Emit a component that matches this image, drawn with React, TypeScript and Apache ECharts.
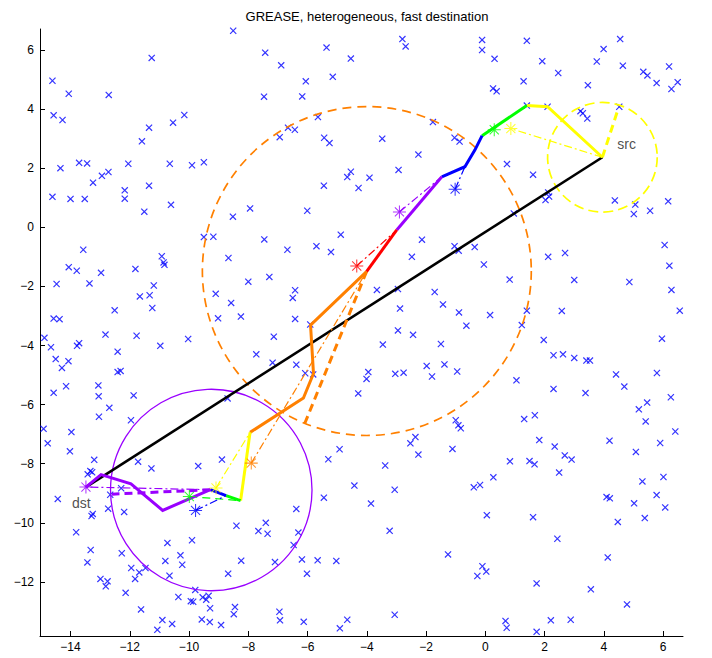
import React, { useEffect, useRef } from "react";
import * as echarts from "echarts";

// ---- axis ----
const xMin = -15.03, xMax = 6.67, yMin = -13.83, yMax = 6.71;
const xTicks = [-14, -12, -10, -8, -6, -4, -2, 0, 2, 4, 6];
const yTicks = [-12, -10, -8, -6, -4, -2, 0, 2, 4, 6];
const titleText = "GREASE, heterogeneous, fast destination";

// ---- nodes (blue x) ----
const nodes: [number, number][] = [
  [-8.51,6.65],[-11.26,5.73],[-14.61,4.96],[-14.06,4.52],[-12.71,4.48],[-14.57,3.79],[-14.27,3.63],[-10.16,3.80],[-11.35,3.37],[-10.54,3.54],[-11.59,2.91],[-13.71,2.18],[-13.44,2.16],[-14.34,2.00],[-12.05,2.15],[-10.65,2.15],[-9.90,2.10],[-9.50,2.20],[-12.72,1.87],[-12.94,1.74],[-13.24,1.51],[-11.35,1.41],[-12.17,1.25],[-14.61,1.03],[-14.00,0.96],[-13.52,0.96],[-12.17,0.97],[-10.61,0.76],[-11.51,0.53],[-7.94,0.64],[-8.52,0.36],[-9.50,-0.33],[-9.18,-0.32],[-13.57,-0.76],[-10.92,-0.98],[-10.86,-1.19],[-10.83,-1.27],[-8.67,-1.04],[-14.06,-1.35],[-13.79,-1.47],[-12.97,-1.54],[-11.81,-1.41],[-14.47,-1.92],[-13.36,-1.90],[-11.19,-1.97],[-8.00,-1.84],[-11.66,-2.34],[-11.33,-2.30],[-9.10,-2.25],[-8.58,-2.56],[-12.51,-2.81],[-11.24,-2.73],[-14.57,-3.09],[-14.37,-3.11],[-9.02,-3.08],[-8.25,-3.02],
  [-2.80,6.37],[-2.69,6.12],[-7.43,5.91],[-5.36,6.08],[-4.54,5.71],[-6.89,5.48],[-5.15,5.09],[-6.06,4.94],[-7.47,4.42],[-6.18,4.43],[-5.65,3.73],[-6.66,3.37],[-6.43,3.30],[-6.94,3.05],[-5.44,3.03],[-5.26,2.85],[-3.48,3.00],[-1.77,3.56],[-1.04,3.03],[-0.87,2.90],[-2.26,2.46],[-2.93,1.94],[-4.54,1.88],[-4.66,1.70],[-3.91,1.68],[-5.45,1.41],[-4.28,1.33],[-6.01,0.56],[-7.46,-0.41],[-6.68,-0.76],[-5.70,-0.64],[-5.21,-0.84],[-4.88,-0.25],[-2.14,-0.42],[-2.48,-1.00],[-1.04,-0.64],[-0.90,-0.79],[-7.29,-1.68],[-6.42,-2.13],[-6.50,-2.39],[-3.66,-2.12],[-2.95,-2.09],[-1.71,-2.19],[-1.43,-2.61],[-2.88,-2.75],[-0.89,-2.88],[-6.42,-3.10],[-5.91,-3.29],[-2.95,-3.49],[-0.64,-3.33],
  [-0.11,6.34],[-0.11,6.00],[1.40,6.31],[4.55,6.37],[0.31,5.70],[1.92,5.62],[3.99,6.03],[3.76,5.61],[4.64,5.47],[6.20,5.44],[2.46,5.22],[5.33,5.26],[5.47,5.14],[5.78,4.88],[6.49,4.91],[6.28,4.68],[1.29,4.94],[3.46,4.81],[0.26,4.70],[0.38,4.60],[1.40,4.12],[2.10,4.08],[4.52,4.08],[3.21,3.93],[3.29,3.86],[3.44,3.68],[0.73,2.14],[1.61,1.78],[2.12,1.18],[2.15,1.04],[2.03,0.92],[4.37,0.91],[5.06,0.77],[5.01,0.45],[5.56,0.56],[6.17,0.88],[0.96,0.47],[-0.36,-0.67],[-0.05,-1.26],[2.12,-1.00],[2.69,-0.87],[0.82,-1.77],[3.00,-1.78],[6.05,-0.60],[6.21,-1.30],[6.28,-2.12],[4.86,-1.85],[6.56,-2.82],[0.16,-2.97],[1.40,-2.82],[2.58,-2.83],[1.23,-3.31],
  [-14.88,-3.74],[-14.66,-4.06],[-13.78,-4.01],[-13.71,-3.92],[-12.82,-3.63],[-11.77,-3.67],[-10.97,-4.01],[-10.03,-3.78],[-7.14,-3.70],[-12.41,-4.21],[-14.50,-4.46],[-14.07,-4.53],[-14.29,-4.76],[-12.41,-4.90],[-12.31,-4.86],[-7.73,-4.30],[-6.38,-4.65],[-6.08,-4.94],[-5.81,-4.98],[-7.18,-4.58],[-14.15,-5.38],[-13.06,-5.35],[-13.05,-5.72],[-14.57,-5.60],[-11.87,-5.69],[-12.69,-6.11],[-13.04,-6.41],[-8.70,-5.79],[-4.29,-5.62],[-11.96,-6.53],[-14.91,-6.82],[-13.97,-6.93],[-14.77,-7.31],[-14.02,-7.58],[-13.20,-7.87],[-11.72,-7.93],[-11.27,-8.16],[-9.69,-8.08],[-8.89,-7.86],[-5.30,-7.85],[-4.92,-7.51],[-4.42,-8.74],[-13.42,-8.36],[-13.27,-8.29],[-13.33,-8.25],[-12.66,-9.05],[-12.29,-8.83],[-14.43,-9.19],[-12.73,-9.52],[-13.29,-9.77],[-13.25,-9.70],[-12.19,-9.63],[-5.45,-9.15],[-6.38,-9.53],[-13.81,-10.32],[-8.40,-10.10],[-7.41,-10.00],[-7.66,-10.28],[-7.35,-10.37],[-6.31,-10.33],[-6.47,-10.75],[-10.73,-10.68],[-9.90,-10.59],[-13.32,-10.92],[-13.43,-11.34],[-12.27,-11.03],[-10.80,-11.29],[-10.29,-11.10],[-10.23,-11.42],[-8.24,-11.28],[-7.10,-11.33],[-6.19,-11.24],[-5.66,-11.27],[-5.03,-11.29],[-8.68,-11.72],[-6.02,-11.72],[-11.95,-11.53],[-11.68,-11.68],[-11.47,-11.53],[-11.82,-11.90],[-12.99,-11.90],[-12.75,-11.98],[-12.81,-12.15],[-10.66,-11.79],[-12.14,-12.37],[-10.36,-12.51],[-9.94,-12.65],[-9.86,-12.67],[-9.79,-12.27],[-9.54,-12.52],[-9.42,-12.60],[-9.34,-12.47],[-9.29,-12.89],[-8.45,-12.85],[-8.49,-13.09],[-11.62,-12.93],[-6.95,-13.01],[-6.93,-13.30],[-6.13,-13.35],[-4.66,-13.28],[-4.91,-13.57],[-10.90,-13.29],[-10.57,-13.42],[-11.07,-13.62],[-9.57,-13.27],[-9.30,-13.36],[-8.92,-13.46],
  [-2.44,-3.64],[-3.46,-3.97],[-1.50,-3.95],[1.97,-3.81],[5.96,-3.77],[-3.95,-4.90],[-4.01,-5.13],[-3.04,-4.96],[-2.76,-4.92],[-1.98,-4.69],[-1.38,-4.64],[-0.95,-4.88],[-1.80,-5.05],[2.30,-4.33],[2.62,-4.30],[3.00,-4.42],[3.41,-4.51],[3.53,-4.51],[1.05,-5.18],[2.30,-5.47],[3.38,-5.61],[4.41,-4.98],[4.69,-5.39],[5.79,-4.93],[6.26,-5.75],[5.46,-5.93],[5.18,-6.16],[5.41,-6.57],[6.41,-6.91],[1.31,-6.49],[1.67,-6.36],[-1.00,-6.53],[-0.91,-6.70],[-0.83,-6.80],[-2.36,-7.10],[-2.53,-7.31],[-2.26,-7.69],[-1.11,-7.50],[1.82,-7.20],[2.34,-7.42],[2.68,-7.72],[2.91,-7.86],[4.19,-7.22],[5.08,-7.60],[5.90,-7.30],[0.83,-7.92],[1.49,-7.91],[1.66,-8.02],[2.49,-8.30],[-3.38,-8.06],[-3.06,-8.88],[-3.86,-9.35],[-0.39,-8.80],[-0.18,-8.72],[0.27,-8.46],[4.09,-9.13],[4.20,-9.17],[5.02,-9.34],[5.30,-8.60],[5.78,-9.06],[6.01,-8.45],[6.07,-9.48],[5.38,-9.84],[4.47,-9.97],[0.05,-9.74],[1.61,-9.81],[-3.23,-10.27],[2.43,-10.54],[-1.26,-11.07],[4.13,-11.17],[-0.10,-11.47],[0.03,-11.65],[-0.27,-11.80],[1.73,-12.05],[3.56,-12.25],[4.78,-12.76],[-3.06,-13.11],[0.68,-13.32],[0.72,-13.55],[2.21,-13.30],[2.88,-13.28],[1.73,-13.69],
];

// ---- source / destination ----
const src: [number, number] = [3.95, 2.37];
const dst: [number, number] = [-13.48, -8.79];

// ---- route segments (thick solid) ----
const yellowTop: [number, number][] = [[3.95, 2.37], [2.10, 4.08], [1.40, 4.12]];
const greenTop: [number, number][] = [[1.40, 4.12], [-0.11, 3.10]];
const blueTop: [number, number][] = [[-0.11, 3.10], [-0.35, 2.62], [-0.69, 2.05], [-1.47, 1.71]];
const purpleMid: [number, number][] = [[-1.47, 1.71], [-2.99, -0.09]];
const redMid: [number, number][] = [[-2.99, -0.09], [-4.01, -1.50]];
const orangeMid: [number, number][] = [[-4.01, -1.50], [-5.90, -3.31], [-5.80, -4.95], [-6.14, -5.78], [-7.94, -6.94]];
const yellowLow: [number, number][] = [[-7.94, -6.94], [-8.26, -9.25]];
const greenLow: [number, number][] = [[-8.26, -9.25], [-8.75, -9.08]];
const blueLow: [number, number][] = [[-8.75, -9.08], [-9.28, -8.88]];
const purpleLow: [number, number][] = [[-9.28, -8.88], [-10.89, -9.58], [-11.96, -8.68], [-12.97, -8.37], [-13.48, -8.79]];

// ---- thin dash-dot links (star -> node) ----
const yellowLink1: [number, number][] = [[3.95, 2.37], [0.86, 3.34]];
const blueLink1: [number, number][] = [[-1.02, 1.29], [-0.69, 2.05]];
const purpleLink1: [number, number][] = [[-2.90, 0.52], [-1.47, 1.71]];
const redLink: [number, number][] = [[-4.34, -1.31], [-2.99, -0.09]];
const orangeLink: [number, number][] = [[-7.90, -7.98], [-4.01, -1.50]];
const yellowLink2: [number, number][] = [[-9.09, -8.82], [-7.94, -6.94]];
const greenLink2: [number, number][] = [[-9.99, -9.11], [-8.26, -9.25]];
const blueLink2: [number, number][] = [[-9.78, -9.58], [-8.75, -9.08]];
const purpleLink2: [number, number][] = [[-9.28, -8.88], [-13.48, -8.79]];

// ---- thick dashed rays to the circles ----
const yellowRay: [number, number][] = [[3.95, 2.37], [4.48, 4.00]];
const orangeRay: [number, number][] = [[-4.01, -1.50], [-6.10, -6.65]];
const purpleRay: [number, number][] = [[-9.28, -8.88], [-12.60, -9.03]];

// ---- circles [cx, cy, r] ----
const yellowCircle = [3.95, 2.37, 1.85];
const orangeCircle = [-4.0, -1.48, 5.55];
const purpleCircle = [-9.25, -8.89, 3.40];

// ---- star markers ----
const starPos: [number, number][] = [[0.86, 3.34], [0.30, 3.30], [-1.02, 1.29], [-2.90, 0.52], [-4.34, -1.31], [-7.90, -7.98], [-9.09, -8.82], [-9.99, -9.11], [-9.78, -9.58], [-13.48, -8.79]];
const starColor = ["yellow", "green", "blue", "purple", "red", "orange", "yellow", "green", "blue", "purple"];

// ---- labels ----
const srcLabelAt: [number, number] = [4.45, 2.82];
const dstLabelAt: [number, number] = [-13.95, -9.33];

const COL: Record<string, string> = {
  yellow: "#ffff00",
  green: "#00ff00",
  blue: "#0000ff",
  purple: "#9900ff",
  red: "#ff0000",
  orange: "#ff8000",
  black: "#000000",
};

const X_MARK = "path://M0,1.2 L1.2,0 L10,8.8 L8.8,10 Z M8.8,0 L10,1.2 L1.2,10 L0,8.8 Z";
const STAR =
  "path://M0,4.6 L10,4.6 L10,5.4 L0,5.4 Z M4.6,0 L5.4,0 L5.4,10 L4.6,10 Z M1.22,1.78 L1.78,1.22 L8.78,8.22 L8.22,8.78 Z M8.22,1.22 L8.78,1.78 L1.78,8.78 L1.22,8.22 Z";

const FONT = "'Liberation Sans', Arial, Helvetica, sans-serif";
const DASH = [8, 5];
const DASHDOT = [8, 3, 2, 3];

function lineS(data: [number, number][], color: string, width: number, type: any, z: number) {
  return {
    type: "line",
    data,
    symbol: "none",
    showSymbol: false,
    silent: true,
    z,
    lineStyle: { color, width, type, cap: "butt", join: "miter" },
  };
}

function circleS(c: number[], color: string, width: number, dash: number[] | null, z: number) {
  return {
    type: "custom",
    data: [c],
    z,
    silent: true,
    encode: { x: 0, y: 1 },
    renderItem: (_p: any, api: any) => {
      const p = api.coord([api.value(0), api.value(1)]);
      const r = api.size([api.value(2), 0])[0];
      return {
        type: "circle",
        shape: { cx: p[0], cy: p[1], r },
        style: { fill: "none", stroke: color, lineWidth: width, lineDash: dash || undefined },
      };
    },
  };
}

function textS(pos: [number, number], text: string) {
  return {
    type: "scatter",
    data: [pos],
    symbolSize: 0,
    silent: true,
    z: 10,
    label: {
      show: true,
      position: "right",
      distance: 0,
      formatter: text,
      color: "#222",
      fontSize: 14,
      fontFamily: FONT,
    },
  };
}

const fmt = (v: number) => (v < 0 ? "\u2212" + Math.abs(v) : String(v));

export default function App() {
  const ref = useRef<HTMLDivElement>(null);
  useEffect(() => {
    if (!ref.current) return;
    const chart = echarts.init(ref.current, undefined, { renderer: "svg" });
    const option: any = {
      animation: false,
      backgroundColor: "#ffffff",
      title: {
        text: titleText,
        left: 362,
        textAlign: "center",
        top: 5,
        textStyle: { fontSize: 13, fontWeight: "normal", color: "#000", fontFamily: FONT },
      },
      grid: { left: 40, right: 29, top: 29, bottom: 22 },
      xAxis: {
        type: "value",
        min: xMin,
        max: xMax,
        axisLine: { show: true, onZero: false, lineStyle: { color: "#000", width: 1 } },
        axisTick: { show: true, inside: true, length: 5, customValues: xTicks, lineStyle: { color: "#000" } },
        axisLabel: { customValues: xTicks, formatter: fmt, color: "#000", fontSize: 12, fontFamily: FONT, margin: 5 },
        splitLine: { show: false },
      },
      yAxis: {
        type: "value",
        min: yMin,
        max: yMax,
        axisLine: { show: true, onZero: false, lineStyle: { color: "#000", width: 1 } },
        axisTick: { show: true, inside: true, length: 5, customValues: yTicks, lineStyle: { color: "#000" } },
        axisLabel: { customValues: yTicks, formatter: fmt, color: "#000", fontSize: 12, fontFamily: FONT, margin: 6 },
        splitLine: { show: false },
      },
      series: [
        {
          type: "scatter",
          data: nodes,
          symbol: X_MARK,
          symbolSize: 7,
          silent: true,
          z: 1,
          itemStyle: { color: COL.blue },
        },
        circleS(orangeCircle, COL.orange, 1.7, [9, 6], 2),
        circleS(yellowCircle, COL.yellow, 1.7, [10, 5], 2),
        circleS(purpleCircle, COL.purple, 1.3, null, 2),
        lineS([src, dst], COL.black, 2.6, "solid", 3),
        lineS(yellowLink1, COL.yellow, 1.2, DASHDOT, 4),
        lineS(blueLink1, COL.blue, 1.2, DASHDOT, 4),
        lineS(purpleLink1, COL.purple, 1.2, DASHDOT, 4),
        lineS(redLink, COL.red, 1.2, DASHDOT, 4),
        lineS(orangeLink, COL.orange, 1.2, DASHDOT, 4),
        lineS(yellowLink2, COL.yellow, 1.2, DASHDOT, 4),
        lineS(greenLink2, COL.green, 1.2, DASH, 4),
        lineS(blueLink2, COL.blue, 1.2, DASHDOT, 4),
        lineS(purpleLink2, COL.purple, 1.2, DASHDOT, 4),
        lineS(yellowRay, COL.yellow, 3, DASH, 5),
        lineS(orangeRay, COL.orange, 3, DASH, 5),
        lineS(purpleRay, COL.purple, 3, DASH, 5),
        lineS(yellowTop, COL.yellow, 3, "solid", 6),
        lineS(greenTop, COL.green, 3, "solid", 6),
        lineS(blueTop, COL.blue, 3, "solid", 6),
        lineS(purpleMid, COL.purple, 3, "solid", 6),
        lineS(redMid, COL.red, 3, "solid", 6),
        lineS(orangeMid, COL.orange, 3, "solid", 6),
        lineS(yellowLow, COL.yellow, 3, "solid", 6),
        lineS(greenLow, COL.green, 3, "solid", 6),
        lineS(blueLow, COL.blue, 3, "solid", 6),
        lineS(purpleLow, COL.purple, 3, "solid", 6),
        {
          type: "scatter",
          symbol: STAR,
          symbolSize: 13,
          silent: true,
          z: 7,
          data: starPos.map((p, i) => ({ value: p, itemStyle: { color: COL[starColor[i]] } })),
        },
        textS(srcLabelAt, "src"),
        textS(dstLabelAt, "dst"),
      ],
    };
    chart.setOption(option);
    return () => chart.dispose();
  }, []);
  return (
    <div
      ref={ref}
      style={{ position: "absolute", left: 0, top: 0, width: 712, height: 658 }}
    />
  );
}
